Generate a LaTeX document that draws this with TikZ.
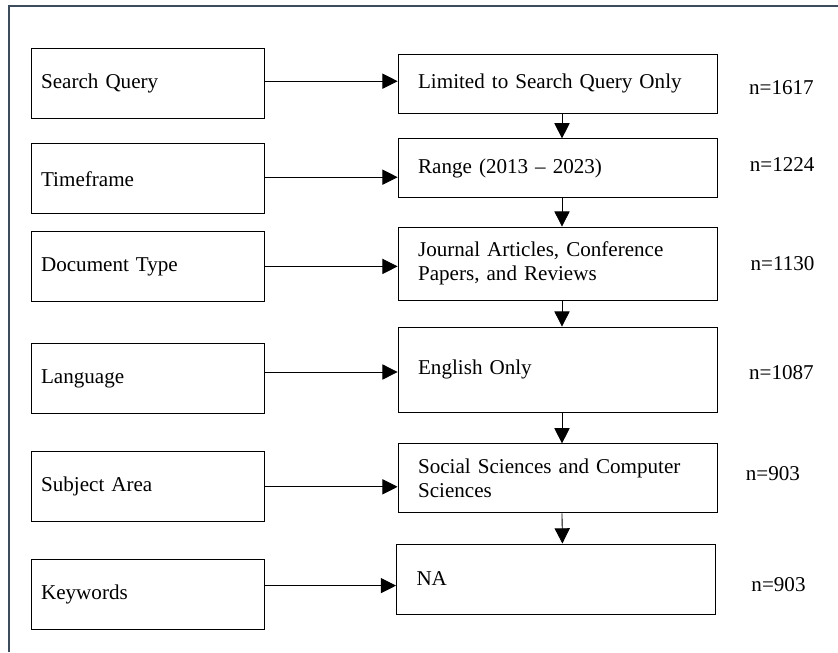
\documentclass[tikz,border=0pt]{standalone}
\usepackage{fontspec}
\setmainfont{Liberation Serif}
\usepackage{tikz}
\usetikzlibrary{
	arrows.meta,
	positioning
}
\usepackage{xcolor}
\definecolor{framecol}{RGB}{60,76,92}

\begin{document}
\begin{tikzpicture}[
		>={Triangle[length=0.38cm,width=0.38cm]},
		font=\fontsize{15}{17}\selectfont,
		crit/.style={
			draw,
			line width=0.7pt,
			minimum width=5.825cm,
			text width=5.325cm,
			inner xsep=0.25cm,
			inner ysep=0pt,
			align=left,
			minimum height=1.75cm
		},
		stage/.style={
			draw,
			line width=0.7pt,
			minimum width=7.975cm,
			text width=6.975cm,
			inner xsep=0.5cm,
			inner ysep=0pt,
			align=left
		},
		count/.style={
			inner sep=0pt
		},
		link/.style={
			->,
			line width=0.6pt,
			draw=black
		}
		]
		
		\useasboundingbox (0,0) rectangle (20.95,-16.3);
		\draw[framecol,line width=0.9pt] (0.225,-16.3) -- (0.225,-0.15) -- (20.95,-0.15);
		
		% Criteria
		\node[crit] (query) at (3.69,-2.08) {Search Query};
		\node[crit] (time) at (3.69,-4.47) {Timeframe};
		\node[crit] (doctype) at (3.69,-6.66) {Document Type};
		\node[crit] (lang) at (3.69,-9.47) {Language};
		\node[crit] (subject) at (3.69,-12.17) {Subject Area};
		\node[crit] (keys) at (3.69,-14.86) {Keywords};
		
		% Stages
		\node[stage,minimum height=1.475cm] (limited) at (13.94,-2.09) {Limited to Search Query Only};
		\node[stage,minimum height=1.475cm] (range) at (13.94,-4.21) {Range (2013 -- 2023)};
		\node[stage,minimum height=1.825cm] (journal) at (13.94,-6.59) {Journal Articles, Conference\\Papers, and Reviews};
		\node[stage,minimum height=2.125cm] (english) at (13.94,-9.24) {English Only};
		\node[stage,minimum height=1.725cm] (social) at (13.94,-11.96) {Social Sciences and Computer\\Sciences};
		\node[stage,minimum height=1.75cm] (na) at (13.9,-14.475) {NA};
		
		% Counts
		\node[count,right=0.78cm of limited,yshift=-0.1cm] (n1) {n=1617};
		\node[count,right=0.8cm of range,yshift=0.09cm] (n2) {n=1224};
		\node[count,right=0.82cm of journal] (n3) {n=1130};
		\node[count,right=0.78cm of english,yshift=-0.07cm] (n4) {n=1087};
		\node[count,right=0.7cm of social,yshift=0.13cm] (n5) {n=903};
		\node[count,right=0.88cm of na,yshift=-0.13cm] (n6) {n=903};
		
		% Connections
		\draw[link] ([yshift=0.05cm]query.east) -- ([yshift=0.05cm]query.east -| limited.west);
		\draw[link] ([yshift=0.04cm]time.east) -- ([yshift=0.04cm]time.east -| range.west);
		\draw[link] (doctype.east) -- (doctype.east -| journal.west);
		\draw[link] ([yshift=0.17cm]lang.east) -- ([yshift=0.17cm]lang.east -| english.west);
		\draw[link] (subject.east) -- (subject.east -| social.west);
		\draw[link] ([yshift=0.22cm]keys.east) -- ([yshift=0.22cm]keys.east -| na.west);
		
		\draw[link] ([xshift=0.11cm]limited.south) -- ([xshift=0.11cm]range.north);
		\draw[link] ([xshift=0.11cm]range.south) -- ([xshift=0.11cm]journal.north);
		\draw[link] ([xshift=0.11cm]journal.south) -- ([xshift=0.11cm]english.north);
		\draw[link] ([xshift=0.11cm]english.south) -- ([xshift=0.11cm]social.north);
		\draw[link] ([xshift=0.11cm]social.south) -- ([xshift=0.16cm]na.north);
		
	\end{tikzpicture}
\end{document}
